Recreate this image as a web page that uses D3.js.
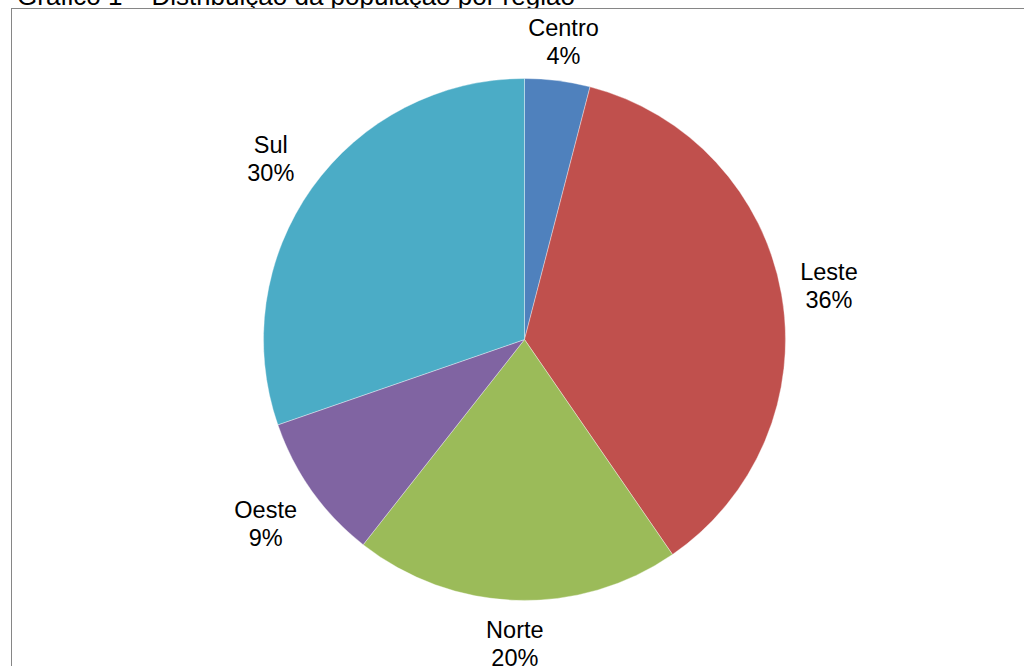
<!DOCTYPE html>
<html>
<head>
<meta charset="utf-8">
<script src="https://cdn.jsdelivr.net/npm/d3@7"></script>
<style>
  html, body { margin: 0; padding: 0; background: #fff; overflow: hidden; }
  svg { display: block; font-family: Arial, "Liberation Sans", sans-serif; }
</style>
</head>
<body>
<svg id="chart" width="1024" height="666"></svg>
<script>
// Distribuição da população por região (%)
const regions = ["Centro", "Leste", "Norte", "Oeste", "Sul"];
const shares = [4, 36, 20, 9, 30];
const colors = ["#4F81BD", "#C0504D", "#9BBB59", "#8064A2", "#4BACC6"];
const title = "Gráfico 1 – Distribuição da população por região";

const data = regions.map((r, i) => ({ region: r, value: shares[i], color: colors[i] }));
const total = d3.sum(shares);
const pct = d3.format(".0%");

const svg = d3.select("#chart");

// title sits above the chart frame and is partly hidden by it
svg.append("text")
  .attr("x", 17)
  .attr("y", 5)
  .attr("font-size", 26)
  .attr("fill", "#000")
  .text(title);

// chart frame
const frameTop = 8.5;
svg.append("rect")
  .attr("x", 11.5)
  .attr("y", frameTop)
  .attr("width", 1200)
  .attr("height", 1000)
  .attr("fill", "#fff")
  .attr("stroke", "#868686")
  .attr("stroke-width", 1);

const cx = 524.5, cy = 339.5, radius = 261;

const pie = d3.pie().sort(null).value(d => d.value);
const arcs = pie(data);
const arc = d3.arc().innerRadius(0).outerRadius(radius);

const g = svg.append("g").attr("transform", `translate(${cx},${cy})`);

g.selectAll("path.slice")
  .data(arcs)
  .join("path")
  .attr("class", "slice")
  .attr("d", arc)
  .attr("fill", d => d.data.color)
  .attr("stroke", "#fff")
  .attr("stroke-width", 0.6)
  .attr("stroke-opacity", 0.6);

// outside labels: the box is pushed out along the slice's mid-angle
// and kept a little below the frame top
const fontSize = 23.5, lineGap = 28, gap = 15, topMargin = 5.5;
const labels = g.selectAll("g.label")
  .data(arcs)
  .join("g")
  .attr("class", "label");

labels.each(function (d) {
  const lg = d3.select(this);
  const t = lg.append("text")
    .attr("text-anchor", "middle")
    .attr("font-size", fontSize)
    .attr("fill", "#000");
  t.append("tspan").attr("x", 0).attr("y", -lineGap / 2 + 8).text(d.data.region);
  t.append("tspan").attr("x", 0).attr("y", lineGap / 2 + 8).text(pct(d.data.value / total));
  const bb = t.node().getBBox();
  const a = (d.startAngle + d.endAngle) / 2;
  const s = Math.sin(a), c = Math.cos(a);
  const w = bb.width, h = lineGap * 2;
  const rr = radius + gap + Math.abs(s) * w / 2 + Math.abs(c) * h / 2;
  const minY = frameTop + topMargin - cy + h / 2;
  const x = rr * s, y = Math.max(-rr * c, minY);
  lg.attr("transform", `translate(${x},${y})`);
});
</script>
</body>
</html>
